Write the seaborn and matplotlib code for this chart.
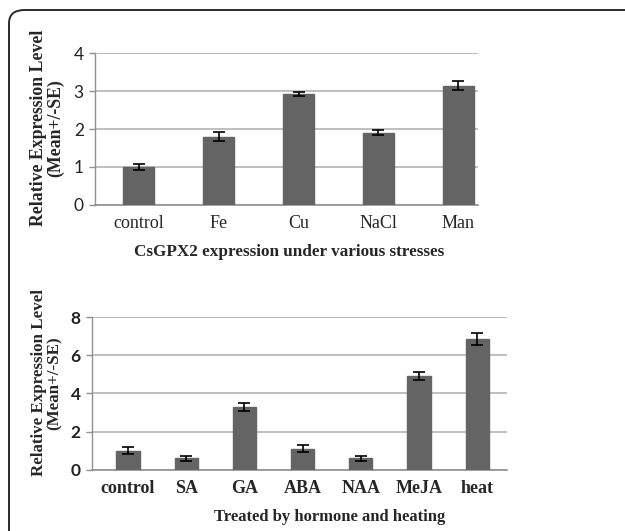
import matplotlib
matplotlib.use("Agg")
import matplotlib.pyplot as plt
import seaborn as sns
import pandas as pd
from matplotlib.patches import FancyBboxPatch

# Data
stress_cats = ["control", "Fe", "Cu", "NaCl", "Man"]
stress_vals = [1.0, 1.8, 2.92, 1.9, 3.14]
stress_err = [0.08, 0.12, 0.06, 0.07, 0.12]

hormone_cats = ["control", "SA", "GA", "ABA", "NAA", "MeJA", "heat"]
hormone_vals = [1.0, 0.6, 3.3, 1.1, 0.6, 4.9, 6.85]
hormone_err = [0.18, 0.12, 0.2, 0.18, 0.12, 0.2, 0.32]

sns.set_theme(style="white")
plt.rcParams["font.family"] = ["Liberation Serif", "DejaVu Serif"]

BAR = "#646464"
GRID = "#b4b4b4"
W, H = 625, 531

fig = plt.figure(figsize=(6.25, 5.31), dpi=100)

# rounded frame (left and top edges visible)
frame = FancyBboxPatch((9 / W, -0.2), 1.2, (H - 10) / H + 0.2,
                       boxstyle="round,pad=0,rounding_size=0.025",
                       transform=fig.transFigure, fill=False,
                       edgecolor="#2a2a2a", linewidth=1.4, clip_on=False)
fig.patches.append(frame)

ax1 = fig.add_axes([0.152, 0.614, 0.613, 0.286])
ax2 = fig.add_axes([0.147, 0.115, 0.664, 0.288])


def draw(ax, cats, vals, errs, ymax, step, xlim, width, ybold, xbold):
    df = pd.DataFrame({"cat": cats, "val": vals})
    sns.barplot(data=df, x="cat", y="val", ax=ax, color=BAR, saturation=1,
                width=width, errorbar=None, zorder=3)
    for p in ax.patches:
        p.set_edgecolor(BAR)
    ax.errorbar(range(len(cats)), vals, yerr=errs, fmt="none", ecolor="black",
                elinewidth=1.2, capsize=4.5, capthick=1.2, zorder=4)
    ax.set_ylim(0, ymax)
    ax.set_xlim(*xlim)
    ax.set_yticks(range(0, ymax + 1, step))
    ax.yaxis.grid(True, color=GRID, linewidth=1.2, zorder=0)
    ax.set_axisbelow(True)
    for s in ["top", "right"]:
        ax.spines[s].set_visible(False)
    ax.spines["left"].set_color("#909090")
    ax.spines["bottom"].set_color("#909090")
    ax.spines["left"].set_linewidth(1.0)
    ax.spines["bottom"].set_linewidth(1.2)
    ax.tick_params(axis="y", length=4, color="#909090", width=1, pad=4, left=True)
    ax.tick_params(axis="x", length=0, pad=7)
    for t in ax.get_yticklabels():
        t.set_fontfamily(["Lato", "DejaVu Sans"])
        t.set_fontsize(12.5)
        t.set_fontweight("bold" if ybold else "normal")
        t.set_color("#222222")
    for t in ax.get_xticklabels():
        t.set_fontfamily(["Liberation Serif", "DejaVu Serif"])
        t.set_fontsize(13)
        t.set_fontweight("bold" if xbold else "normal")
    ax.set_xlabel("")
    ax.set_ylabel("")


draw(ax1, stress_cats, stress_vals, stress_err, 4, 1, (-0.55, 4.25), 0.39,
     False, False)
draw(ax2, hormone_cats, hormone_vals, hormone_err, 8, 2, (-0.62, 6.51), 0.40,
     True, True)

ylab = "Relative Expression Level\n(Mean+/-SE)"
fig.text(47 / W, 1 - 128 / H, ylab, rotation=90, ha="center", va="center",
         fontsize=12.8, fontweight="bold", linespacing=1.0,
         rotation_mode="anchor")
fig.text(47 / W, 1 - 383 / H, ylab, rotation=90, ha="center", va="center",
         fontsize=12.2, fontweight="bold", linespacing=1.0,
         rotation_mode="anchor")

fig.text(289 / W, 1 - 252 / H, "CsGPX2 expression under various stresses",
         ha="center", va="center", fontsize=12.3, fontweight="bold")
fig.text(330 / W, 1 - 517 / H, "Treated by hormone and heating",
         ha="center", va="center", fontsize=12, fontweight="bold")

fig.savefig("out.png", dpi=100)
